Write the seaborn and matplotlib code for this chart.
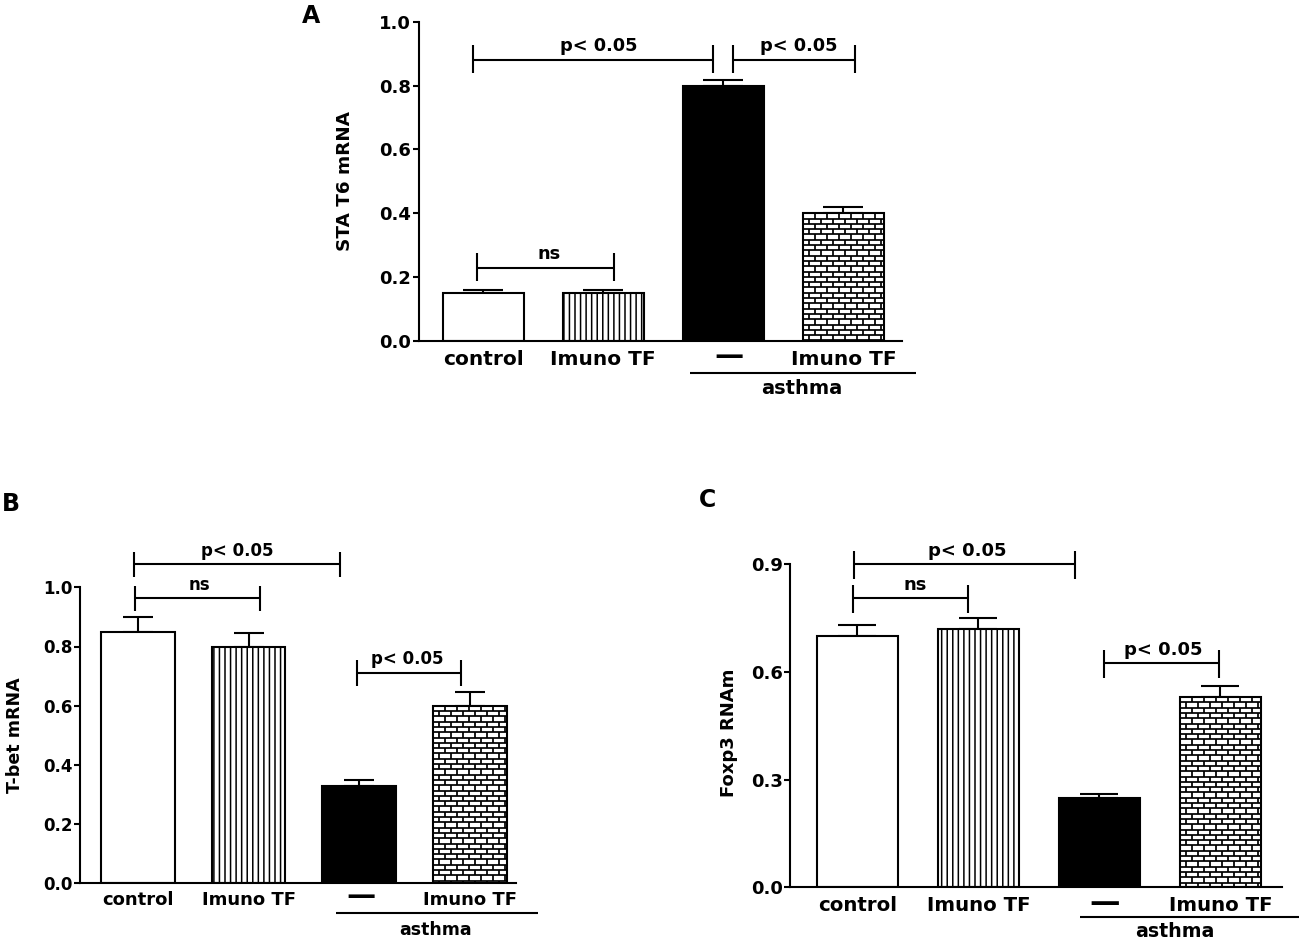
import numpy as np
import pandas as pd
import matplotlib
matplotlib.use("Agg")
import matplotlib.pyplot as plt
import seaborn as sns
from matplotlib.collections import LineCollection

# ---------------- data ----------------
groups = ["control", "Imuno TF", "asthma", "asthma + Imuno TF"]
tick_labels = ["control", "Imuno TF", "", "Imuno TF"]
dash_label = "\u2014"
group_label = "asthma"

stat6_mean = [0.15, 0.15, 0.80, 0.40]
stat6_err = [0.01, 0.01, 0.017, 0.02]
stat6_ticks = [0.0, 0.2, 0.4, 0.6, 0.8, 1.0]
stat6_label = "STA T6 mRNA"

tbet_mean = [0.85, 0.80, 0.33, 0.60]
tbet_err = [0.05, 0.047, 0.02, 0.046]
tbet_ticks = [0.0, 0.2, 0.4, 0.6, 0.8, 1.0]
tbet_label = "T-bet mRNA"

foxp3_mean = [0.70, 0.72, 0.25, 0.53]
foxp3_err = [0.03, 0.03, 0.01, 0.03]
foxp3_ticks = [0.0, 0.3, 0.6, 0.9]
foxp3_label = "Foxp3 RNAm"

# significance brackets: (x start, x end, y level, text, text x)
stat6_brackets = [(-0.08, 1.91, 0.881, "p< 0.05", 0.967),
                  (2.08, 3.095, 0.881, "p< 0.05", 2.624),
                  (-0.05, 1.09, 0.23, "ns", 0.553)]
tbet_brackets = [(-0.03, 1.83, 1.078, "p< 0.05", 0.90),
                 (-0.024, 1.10, 0.963, "ns", 0.56),
                 (1.975, 2.92, 0.711, "p< 0.05", 2.43)]
foxp3_brackets = [(-0.026, 1.80, 0.90, "p< 0.05", 0.91),
                  (-0.04, 0.91, 0.805, "ns", 0.475),
                  (2.04, 2.99, 0.624, "p< 0.05", 2.53)]

# ---------------- style ----------------
sns.set_theme(style="ticks")
plt.rcParams["font.family"] = ["DejaVu Sans"]
plt.rcParams["font.weight"] = "bold"
plt.rcParams["axes.labelweight"] = "bold"
plt.rcParams["text.color"] = "black"
plt.rcParams["axes.labelcolor"] = "black"
plt.rcParams["xtick.color"] = "black"
plt.rcParams["ytick.color"] = "black"
plt.rcParams["axes.edgecolor"] = "black"
plt.rcParams["hatch.linewidth"] = 1.1
plt.rcParams["hatch.color"] = "black"

W, H = 1302, 943
fig = plt.figure(figsize=(W / 100, H / 100), dpi=100)
fig.patch.set_facecolor("white")

LW = 1.5


def add_bricks(ax, patch, row_px=5.3, brick_px=12.0, lw=1.25):
    x0, y0 = patch.get_x(), patch.get_y()
    w, h = patch.get_width(), patch.get_height()
    p0 = ax.transData.transform((x0, y0))
    p1 = ax.transData.transform((x0 + w, y0 + h))
    sx = (p1[0] - p0[0]) / w
    sy = (p1[1] - p0[1]) / h
    dy = row_px / sy
    dx = brick_px / sx
    n_rows = int(np.ceil(h / dy))
    segs = []
    for i in range(n_rows + 1):
        yy = y0 + h - i * dy
        segs.append([(x0, yy), (x0 + w, yy)])
    for i in range(n_rows):
        ya, yb = y0 + h - i * dy, y0 + h - (i + 1) * dy
        off = dx / 2 if i % 2 else 0.0
        for xx in np.arange(x0 + off, x0 + w, dx):
            segs.append([(xx, ya), (xx, yb)])
    lc = LineCollection(segs, colors="black", linewidths=lw, zorder=patch.get_zorder() + 0.05)
    ax.add_collection(lc, autolim=False)
    lc.set_clip_path(patch)


def draw_panel(cfg):
    ax = fig.add_axes(cfg["rect"])
    ax.set_facecolor("white")
    df = pd.DataFrame({"group": groups, "value": cfg["mean"]})
    sns.barplot(data=df, x="group", y="value", hue="group", order=groups, hue_order=groups,
                palette=["white", "white", "black", "white"], legend=False,
                width=cfg["width"], edgecolor="black", linewidth=LW, errorbar=None,
                saturation=1, ax=ax)
    ax.set_xlim(*cfg["xlim"])
    ax.set_ylim(*cfg["ylim"])
    bars = [p for p in ax.patches]
    bars[1].set_hatch("|||")
    ax.errorbar(x=np.arange(len(groups)), y=cfg["mean"],
                yerr=[np.zeros(len(groups)), cfg["err"]],
                fmt="none", ecolor="black", elinewidth=LW, capsize=cfg["capsize"],
                capthick=LW, zorder=0.5)
    add_bricks(ax, bars[3])

    sns.despine(ax=ax)
    for s in ("left", "bottom"):
        ax.spines[s].set_linewidth(LW)
        ax.spines[s].set_color("black")

    ax.set_yticks(cfg["yticks"])
    ax.set_yticklabels([f"{t:.1f}" for t in cfg["yticks"]], fontsize=cfg["fs_tick"],
                       fontweight="bold", color="black")
    ax.tick_params(axis="y", length=4.5, width=LW, pad=1, colors="black")
    ax.set_xticks(range(len(groups)))
    ax.set_xticklabels(tick_labels, fontsize=cfg["fs_x"], fontweight="bold", color="black")
    ax.tick_params(axis="x", length=0, pad=cfg["xpad"], colors="black")
    ax.set_xlabel("")
    ax.set_ylabel("")

    # y label
    ax.text(cfg["ylab_xy"][0], cfg["ylab_xy"][1], cfg["ylabel"], transform=ax.transAxes,
            rotation=90, ha="center", va="center", fontsize=cfg["fs_ylab"], fontweight="bold",
            color="black")

    # dash label for the untreated asthma group
    xt = ax.get_xaxis_transform()
    ax.annotate(dash_label, xy=(cfg["dash_x"], 0), xycoords=xt, xytext=(0, -cfg["dash_off"]),
                textcoords="offset points", ha="center", va="center",
                fontsize=cfg["fs_dash"], fontweight="bold", color="black")
    # asthma group line and text
    ax.plot(cfg["grp_line"], [cfg["grp_y"], cfg["grp_y"]], transform=xt, color="black",
            lw=LW, clip_on=False, solid_capstyle="butt")
    ax.text(cfg["grp_text"][0], cfg["grp_text"][1], group_label, transform=xt,
            ha="center", va="center", fontsize=cfg["fs_x"] - 0.5, fontweight="bold",
            color="black")

    # brackets
    lo, hi = cfg["tick_h"]
    for (x0, x1, y, txt, tx) in cfg["brackets"]:
        ax.plot([x0, x1], [y, y], color="black", lw=LW, clip_on=False, solid_capstyle="butt")
        ax.plot([x0, x0], [y - lo, y + hi], color="black", lw=LW, clip_on=False, solid_capstyle="butt")
        ax.plot([x1, x1], [y - lo, y + hi], color="black", lw=LW, clip_on=False, solid_capstyle="butt")
        ax.annotate(txt, xy=(tx, y), xycoords="data", xytext=(0, 9.8), textcoords="offset points",
                    ha="center", va="center", fontsize=cfg["fs_p"], fontweight="bold",
                    color="black", annotation_clip=False)

    fig.text(cfg["letter_xy"][0] / W, 1 - cfg["letter_xy"][1] / H, cfg["letter"],
             ha="center", va="center", fontsize=17, fontweight="bold", color="black")
    return ax


panels = [
    dict(letter="A", letter_xy=(310.6, 16), mean=stat6_mean, err=stat6_err, yticks=stat6_ticks,
         ylabel=stat6_label, brackets=stat6_brackets,
         rect=[418.7 / W, 1 - 341 / H, 483.3 / W, 319.3 / H],
         xlim=(-0.536, 3.4875), ylim=(0, 1.0), width=0.675, capsize=14.4,
         fs_tick=13, fs_x=14.5, fs_p=12.8, fs_ylab=13.2, xpad=6.5,
         ylab_xy=(-0.1515, 0.5), dash_x=2.05, dash_off=10.8, fs_dash=21,
         grp_line=[1.725, 3.6], grp_y=-32 / 319.3, grp_text=(2.65, -47 / 319.3),
         tick_h=(0.042, 0.045)),
    dict(letter="B", letter_xy=(11, 504), mean=tbet_mean, err=tbet_err, yticks=tbet_ticks,
         ylabel=tbet_label, brackets=tbet_brackets,
         rect=[80.4 / W, 1 - 883.3 / H, 435.6 / W, 296 / H],
         xlim=(-0.518, 3.415), ylim=(0, 1.0), width=0.665, capsize=10.8,
         fs_tick=12, fs_x=13, fs_p=12, fs_ylab=12.6, xpad=5.4,
         ylab_xy=(-0.150, 0.5), dash_x=2.02, dash_off=9.4, fs_dash=21,
         grp_line=[1.79, 3.61], grp_y=-30 / 296, grp_text=(2.69, -46.7 / 296),
         tick_h=(0.043, 0.042)),
    dict(letter="C", letter_xy=(707, 500), mean=foxp3_mean, err=foxp3_err, yticks=foxp3_ticks,
         ylabel=foxp3_label, brackets=foxp3_brackets,
         rect=[790.2 / W, 1 - 887.3 / H, 491.4 / W, 323 / H],
         xlim=(-0.555, 3.505), ylim=(0, 0.9), width=0.674, capsize=14,
         fs_tick=13, fs_x=14.2, fs_p=13, fs_ylab=13, xpad=6,
         ylab_xy=(-0.125, 0.477), dash_x=2.04, dash_off=10.8, fs_dash=22,
         grp_line=[1.84, 3.65], grp_y=-29.4 / 323, grp_text=(2.62, -44.4 / 323),
         tick_h=(0.041, 0.038)),
]

for cfg in panels:
    draw_panel(cfg)

fig.savefig("out.png", dpi=100, facecolor="white")
